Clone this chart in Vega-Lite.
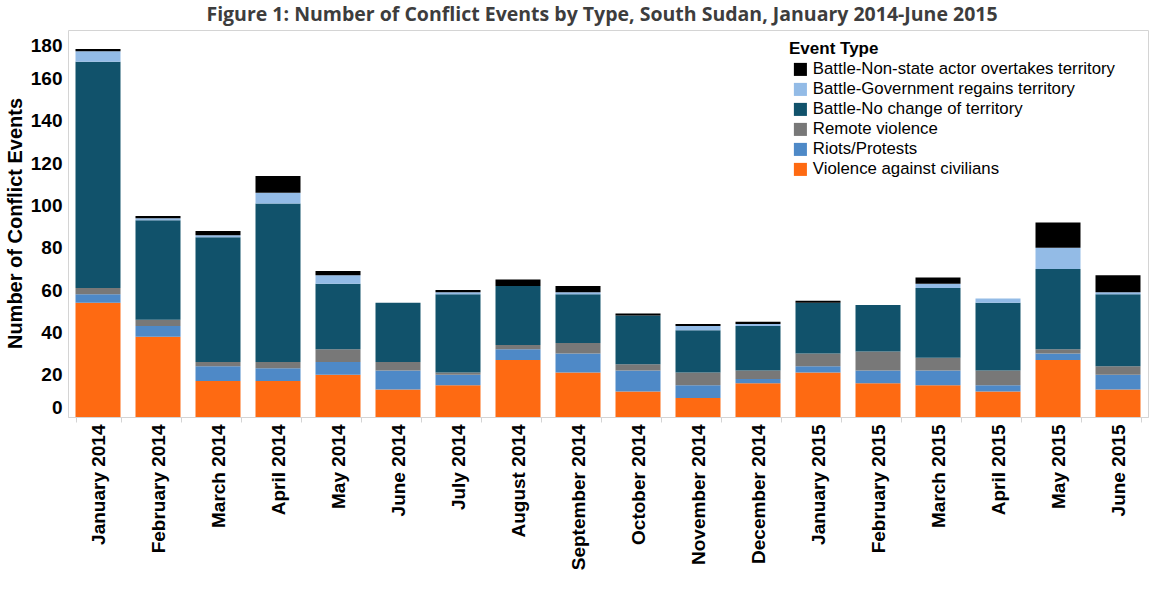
{
  "$schema": "https://vega.github.io/schema/vega-lite/v6.json",
  "autosize": {"type": "none"},
  "padding": {"left": 68, "top": 30, "right": 5, "bottom": 177},
  "width": 1080,
  "height": 387,
  "background": "white",
  "config": {
    "view": {"stroke": "#d4d4d4", "strokeWidth": 1},
    "font": "Liberation Sans"
  },
  "title": {
    "text": "Figure 1: Number of Conflict Events by Type, South Sudan, January 2014-June 2015",
    "font": "Open Sans",
    "fontSize": 19.5,
    "fontWeight": "bold",
    "color": "#3d3d3d",
    "anchor": "middle",
    "frame": "group",
    "baseline": "alphabetic",
    "offset": 8,
    "dx": -6,
    "dy": 18
  },
  "datasets": {
    "types": [
      {"type": "Violence against civilians", "rank": 1},
      {"type": "Riots/Protests", "rank": 2},
      {"type": "Remote violence", "rank": 3},
      {"type": "Battle-No change of territory", "rank": 4},
      {"type": "Battle-Government regains territory", "rank": 5},
      {"type": "Battle-Non-state actor overtakes territory", "rank": 6}
    ]
  },
  "data": {
    "values": [
      {"month": "January 2014", "type": "Violence against civilians", "events": 54},
      {"month": "January 2014", "type": "Riots/Protests", "events": 4},
      {"month": "January 2014", "type": "Remote violence", "events": 3},
      {"month": "January 2014", "type": "Battle-No change of territory", "events": 107},
      {"month": "January 2014", "type": "Battle-Government regains territory", "events": 5},
      {"month": "January 2014", "type": "Battle-Non-state actor overtakes territory", "events": 1},
      {"month": "February 2014", "type": "Violence against civilians", "events": 38},
      {"month": "February 2014", "type": "Riots/Protests", "events": 5},
      {"month": "February 2014", "type": "Remote violence", "events": 3},
      {"month": "February 2014", "type": "Battle-No change of territory", "events": 47},
      {"month": "February 2014", "type": "Battle-Government regains territory", "events": 1},
      {"month": "February 2014", "type": "Battle-Non-state actor overtakes territory", "events": 1},
      {"month": "March 2014", "type": "Violence against civilians", "events": 17},
      {"month": "March 2014", "type": "Riots/Protests", "events": 7},
      {"month": "March 2014", "type": "Remote violence", "events": 2},
      {"month": "March 2014", "type": "Battle-No change of territory", "events": 59},
      {"month": "March 2014", "type": "Battle-Government regains territory", "events": 1},
      {"month": "March 2014", "type": "Battle-Non-state actor overtakes territory", "events": 2},
      {"month": "April 2014", "type": "Violence against civilians", "events": 17},
      {"month": "April 2014", "type": "Riots/Protests", "events": 6},
      {"month": "April 2014", "type": "Remote violence", "events": 3},
      {"month": "April 2014", "type": "Battle-No change of territory", "events": 75},
      {"month": "April 2014", "type": "Battle-Government regains territory", "events": 5},
      {"month": "April 2014", "type": "Battle-Non-state actor overtakes territory", "events": 8},
      {"month": "May 2014", "type": "Violence against civilians", "events": 20},
      {"month": "May 2014", "type": "Riots/Protests", "events": 6},
      {"month": "May 2014", "type": "Remote violence", "events": 6},
      {"month": "May 2014", "type": "Battle-No change of territory", "events": 31},
      {"month": "May 2014", "type": "Battle-Government regains territory", "events": 4},
      {"month": "May 2014", "type": "Battle-Non-state actor overtakes territory", "events": 2},
      {"month": "June 2014", "type": "Violence against civilians", "events": 13},
      {"month": "June 2014", "type": "Riots/Protests", "events": 9},
      {"month": "June 2014", "type": "Remote violence", "events": 4},
      {"month": "June 2014", "type": "Battle-No change of territory", "events": 28},
      {"month": "July 2014", "type": "Violence against civilians", "events": 15},
      {"month": "July 2014", "type": "Riots/Protests", "events": 5},
      {"month": "July 2014", "type": "Remote violence", "events": 1},
      {"month": "July 2014", "type": "Battle-No change of territory", "events": 37},
      {"month": "July 2014", "type": "Battle-Government regains territory", "events": 1},
      {"month": "July 2014", "type": "Battle-Non-state actor overtakes territory", "events": 1},
      {"month": "August 2014", "type": "Violence against civilians", "events": 27},
      {"month": "August 2014", "type": "Riots/Protests", "events": 5},
      {"month": "August 2014", "type": "Remote violence", "events": 2},
      {"month": "August 2014", "type": "Battle-No change of territory", "events": 28},
      {"month": "August 2014", "type": "Battle-Non-state actor overtakes territory", "events": 3},
      {"month": "September 2014", "type": "Violence against civilians", "events": 21},
      {"month": "September 2014", "type": "Riots/Protests", "events": 9},
      {"month": "September 2014", "type": "Remote violence", "events": 5},
      {"month": "September 2014", "type": "Battle-No change of territory", "events": 23},
      {"month": "September 2014", "type": "Battle-Government regains territory", "events": 1},
      {"month": "September 2014", "type": "Battle-Non-state actor overtakes territory", "events": 3},
      {"month": "October 2014", "type": "Violence against civilians", "events": 12},
      {"month": "October 2014", "type": "Riots/Protests", "events": 10},
      {"month": "October 2014", "type": "Remote violence", "events": 3},
      {"month": "October 2014", "type": "Battle-No change of territory", "events": 23},
      {"month": "October 2014", "type": "Battle-Non-state actor overtakes territory", "events": 1},
      {"month": "November 2014", "type": "Violence against civilians", "events": 9},
      {"month": "November 2014", "type": "Riots/Protests", "events": 6},
      {"month": "November 2014", "type": "Remote violence", "events": 6},
      {"month": "November 2014", "type": "Battle-No change of territory", "events": 20},
      {"month": "November 2014", "type": "Battle-Government regains territory", "events": 2},
      {"month": "November 2014", "type": "Battle-Non-state actor overtakes territory", "events": 1},
      {"month": "December 2014", "type": "Violence against civilians", "events": 16},
      {"month": "December 2014", "type": "Riots/Protests", "events": 2},
      {"month": "December 2014", "type": "Remote violence", "events": 4},
      {"month": "December 2014", "type": "Battle-No change of territory", "events": 21},
      {"month": "December 2014", "type": "Battle-Government regains territory", "events": 1},
      {"month": "December 2014", "type": "Battle-Non-state actor overtakes territory", "events": 1},
      {"month": "January 2015", "type": "Violence against civilians", "events": 21},
      {"month": "January 2015", "type": "Riots/Protests", "events": 3},
      {"month": "January 2015", "type": "Remote violence", "events": 6},
      {"month": "January 2015", "type": "Battle-No change of territory", "events": 24},
      {"month": "January 2015", "type": "Battle-Non-state actor overtakes territory", "events": 1},
      {"month": "February 2015", "type": "Violence against civilians", "events": 16},
      {"month": "February 2015", "type": "Riots/Protests", "events": 6},
      {"month": "February 2015", "type": "Remote violence", "events": 9},
      {"month": "February 2015", "type": "Battle-No change of territory", "events": 22},
      {"month": "March 2015", "type": "Violence against civilians", "events": 15},
      {"month": "March 2015", "type": "Riots/Protests", "events": 7},
      {"month": "March 2015", "type": "Remote violence", "events": 6},
      {"month": "March 2015", "type": "Battle-No change of territory", "events": 33},
      {"month": "March 2015", "type": "Battle-Government regains territory", "events": 2},
      {"month": "March 2015", "type": "Battle-Non-state actor overtakes territory", "events": 3},
      {"month": "April 2015", "type": "Violence against civilians", "events": 12},
      {"month": "April 2015", "type": "Riots/Protests", "events": 3},
      {"month": "April 2015", "type": "Remote violence", "events": 7},
      {"month": "April 2015", "type": "Battle-No change of territory", "events": 32},
      {"month": "April 2015", "type": "Battle-Government regains territory", "events": 2},
      {"month": "May 2015", "type": "Violence against civilians", "events": 27},
      {"month": "May 2015", "type": "Riots/Protests", "events": 3},
      {"month": "May 2015", "type": "Remote violence", "events": 2},
      {"month": "May 2015", "type": "Battle-No change of territory", "events": 38},
      {"month": "May 2015", "type": "Battle-Government regains territory", "events": 10},
      {"month": "May 2015", "type": "Battle-Non-state actor overtakes territory", "events": 12},
      {"month": "June 2015", "type": "Violence against civilians", "events": 13},
      {"month": "June 2015", "type": "Riots/Protests", "events": 7},
      {"month": "June 2015", "type": "Remote violence", "events": 4},
      {"month": "June 2015", "type": "Battle-No change of territory", "events": 34},
      {"month": "June 2015", "type": "Battle-Government regains territory", "events": 1},
      {"month": "June 2015", "type": "Battle-Non-state actor overtakes territory", "events": 8}
    ]
  },
  "transform": [
    {"lookup": "type", "from": {"data": {"name": "types"}, "key": "type", "fields": ["rank"]}}
  ],
  "mark": {"type": "bar", "strokeWidth": 0},
  "encoding": {
    "x": {
      "field": "month",
      "type": "nominal",
      "sort": null,
      "scale": {"paddingInner": 0.25, "paddingOuter": 0.125},
      "axis": {
        "title": null,
        "labelAngle": -90,
        "labelAlign": "right",
        "labelBaseline": "middle",
        "labelFont": "Liberation Sans",
        "labelFontSize": 19,
        "labelFontWeight": "bold",
        "labelColor": "#000000",
        "labelPadding": 2,
        "tickBand": "extent",
        "tickSize": 5,
        "tickColor": "#d4d4d4",
        "domainColor": "#d4d4d4"
      }
    },
    "y": {
      "field": "events",
      "type": "quantitative",
      "aggregate": "sum",
      "stack": "zero",
      "scale": {"domain": [0, 183], "nice": false, "zero": true},
      "axis": {
        "title": "Number of Conflict Events",
        "titleFont": "Liberation Sans",
        "titleFontSize": 20,
        "titleFontWeight": "bold",
        "titleColor": "#000000",
        "titleAngle": -90,
        "titleX": -53,
        "titleY": 193,
        "titleBaseline": "middle",
        "titleAlign": "center",
        "values": [0, 20, 40, 60, 80, 100, 120, 140, 160, 180],
        "labelFont": "Liberation Sans",
        "labelFontSize": 19,
        "labelFontWeight": "bold",
        "labelColor": "#000000",
        "labelPadding": 6,
        "labelFlush": 8,
        "ticks": false,
        "grid": false,
        "domain": false
      }
    },
    "order": {"field": "rank", "type": "quantitative", "sort": "ascending"},
    "color": {
      "field": "type",
      "type": "nominal",
      "scale": {
        "domain": [
          "Battle-Non-state actor overtakes territory",
          "Battle-Government regains territory",
          "Battle-No change of territory",
          "Remote violence",
          "Riots/Protests",
          "Violence against civilians"
        ],
        "range": ["#000000", "#93bbe6", "#11526b", "#787878", "#4e89c7", "#fe6a12"]
      },
      "legend": {
        "title": "Event Type",
        "orient": "none",
        "legendX": 721,
        "legendY": 11,
        "padding": 0,
        "titleFont": "Liberation Sans",
        "titleFontSize": 17,
        "titleFontWeight": "bold",
        "titleColor": "#000000",
        "titlePadding": 3,
        "symbolType": "square",
        "symbolSize": 170,
        "symbolStrokeWidth": 0,
        "symbolOpacity": 1,
        "symbolOffset": 3,
        "labelFont": "Liberation Sans",
        "labelFontSize": 16.8,
        "labelColor": "#000000",
        "labelOffset": 4,
        "rowPadding": 2,
        "labelLimit": 400
      }
    }
  }
}
